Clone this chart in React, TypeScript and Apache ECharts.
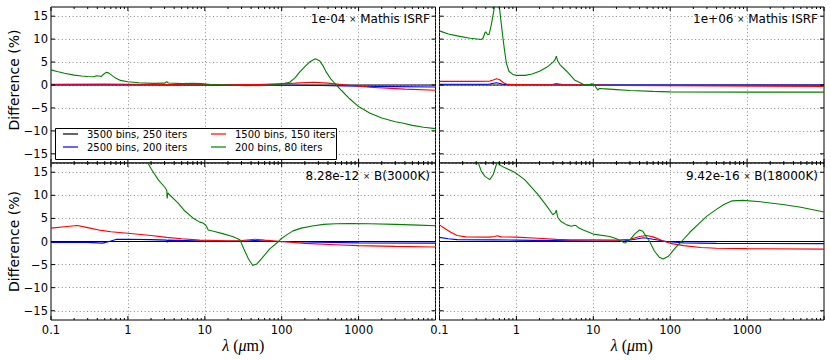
import React, { useEffect, useRef } from 'react';
import * as echarts from 'echarts';

type Pt = [number, number];

const seriesNames = ['3500 bins, 250 iters', '2500 bins, 200 iters', '1500 bins, 150 iters', '200 bins, 80 iters'];
const seriesColors = ['#000000', '#0000ff', '#ff0000', '#008000'];
const panelTitles = [
  '1e-04 {x|×} Mathis ISRF',
  '1e+06 {x|×} Mathis ISRF',
  '8.28e-12 {x|×} B(3000K)',
  '9.42e-16 {x|×} B(18000K)',
];
const xMajorTicks = [0.1, 1, 10, 100, 1000, 10000];
const xMinorTicks = [
  0.2, 0.3, 0.4, 0.5, 0.6, 0.7, 0.8, 0.9,
  2, 3, 4, 5, 6, 7, 8, 9,
  20, 30, 40, 50, 60, 70, 80, 90,
  200, 300, 400, 500, 600, 700, 800, 900,
  2000, 3000, 4000, 5000, 6000, 7000, 8000, 9000,
];
const yMajorTicks = [-15, -10, -5, 0, 5, 10, 15];
const X_MIN = 0.1;
const X_MAX = 10000;
const Y_MIN = -17;
const Y_MAX = 17;

// Top-left: 1e-04 x Mathis ISRF
const tlBlack: Pt[] = [[0.1, 0], [10000, 0]];
const tlBlue: Pt[] = [[0.1, 0.05], [1, 0.05], [10, 0], [100, -0.05], [300, -0.1], [1000, -0.25], [3000, -0.35], [10000, -0.45]];
const tlRed: Pt[] = [[0.1, 0.15], [0.5, 0.2], [1, 0.15], [3, 0.1], [10, 0.05], [50, 0.1], [150, 0.4], [260, 0.6], [400, 0.4], [700, 0.0], [1400, -0.5], [4000, -0.9], [10000, -1.15]];
const tlGreen: Pt[] = [
  [0.1, 3.3], [0.12, 2.95], [0.15, 2.55], [0.2, 2.15], [0.25, 1.95], [0.3, 1.85], [0.36, 1.8], [0.39, 2.0], [0.42, 1.95],
  [0.45, 1.85], [0.48, 2.3], [0.52, 2.75], [0.56, 2.65], [0.62, 2.1], [0.7, 1.45], [0.8, 1.0], [1.0, 0.7], [1.4, 0.5],
  [2.1, 0.35], [3.0, 0.4], [3.2, 0.7], [3.35, 0.45], [5, 0.3], [7, 0.35], [9, 0.3], [12, 0.1], [20, 0.0], [35, -0.15],
  [60, -0.1], [94, 0.1], [127, 0.6], [150, 1.6], [171, 2.8], [200, 4.0], [230, 5.0], [274, 5.7], [310, 5.3], [350, 4.0],
  [380, 2.8], [440, 1.2], [513, 0], [600, -1.2], [764, -3.0], [1000, -4.7], [1390, -6.1], [2000, -7.2], [3000, -8.0],
  [3700, -8.3], [5000, -8.8], [7000, -9.2], [10000, -9.5],
];

// Top-right: 1e+06 x Mathis ISRF
const trBlack: Pt[] = [[0.1, 0], [10000, 0]];
const trBlue: Pt[] = [[0.1, 0.15], [0.45, 0.2], [0.55, 0.5], [0.65, 0.2], [0.8, 0.05], [10000, 0.0]];
const trRed: Pt[] = [[0.1, 0.8], [0.3, 0.8], [0.45, 0.85], [0.5, 1.1], [0.55, 1.35], [0.6, 1.2], [0.68, 0.5], [0.75, 0.15], [1, 0.1], [3, 0.15], [3.3, 0.3], [4, 0.1], [10, 0.0], [20, -0.1], [10000, -0.3]];
const trGreen: Pt[] = [
  [0.1, 11.8], [0.13, 11.1], [0.17, 10.7], [0.25, 10.2], [0.35, 9.9], [0.37, 10.3], [0.39, 11.4], [0.4, 11.6], [0.42, 11.0],
  [0.44, 11.0], [0.47, 13.0], [0.5, 15.5], [0.53, 18], [0.56, 19.5], [0.59, 18], [0.62, 15.0], [0.66, 11], [0.7, 7.6],
  [0.74, 4.8], [0.8, 3.0], [0.9, 2.3], [1.0, 2.1], [1.3, 2.1], [1.6, 2.4], [2.0, 3.0], [2.5, 3.9], [3.0, 5.0], [3.2, 5.6],
  [3.3, 6.3], [3.45, 5.2], [3.7, 4.4], [4.5, 3.0], [5.7, 1.1], [7.4, 0.15], [9, 0.1], [9.5, 0.25], [10.3, 0.1], [11, -0.7],
  [11.5, -1.1], [12, -0.75], [13, -0.8], [20, -1.0], [30, -1.2], [60, -1.4], [100, -1.5], [1000, -1.55], [10000, -1.55],
];

// Bottom-left: 8.28e-12 x B(3000K)
const blBlack: Pt[] = [[0.1, 0], [10000, 0]];
const blBlue: Pt[] = [[0.1, -0.2], [0.3, -0.2], [0.47, -0.35], [0.6, 0.1], [0.7, 0.45], [1, 0.5], [2, 0.4], [3.2, 0.3], [3.25, -0.2], [3.3, 0.3], [10, 0.1], [30, 0.05], [45, 0.2], [80, 0.0], [300, -0.15], [1000, -0.3], [10000, -0.35]];
const blRed: Pt[] = [[0.1, 2.9], [0.15, 3.2], [0.22, 3.45], [0.3, 3.0], [0.45, 2.4], [0.6, 2.1], [1, 1.8], [2, 1.3], [3.2, 0.9], [5, 0.6], [8.6, 0.3], [20, 0.15], [30, 0.2], [45, 0.5], [60, 0.3], [100, 0.0], [200, -0.4], [500, -0.7], [1000, -0.9], [3000, -1.05], [10000, -1.2]];
const blGreen: Pt[] = [
  [1.5, 20], [1.82, 17], [2.03, 15.6], [2.5, 13.3], [3.0, 11.8], [3.2, 11.1], [3.24, 9.3], [3.3, 10.5], [4.5, 8.3],
  [5.5, 6.6], [7.0, 5.1], [8.6, 4.2], [9.5, 4.0], [10.3, 3.5], [11.1, 2.5], [13, 2.2], [17, 1.7], [23, 1.1], [28.6, 0.4],
  [32, -1.5], [37, -3.8], [42, -5.2], [48, -4.8], [58, -3.2], [70, -1.6], [91, 0], [98, 0.6], [120, 1.6], [140, 2.3],
  [180, 2.9], [250, 3.35], [350, 3.7], [500, 3.85], [800, 3.9], [1400, 3.85], [3000, 3.7], [6000, 3.55], [10000, 3.4],
];

// Bottom-right: 9.42e-16 x B(18000K)
const brBlack: Pt[] = [[0.1, 0], [10000, 0]];
const brBlue: Pt[] = [[0.1, 0.9], [0.13, 0.6], [0.17, 0.4], [0.5, 0.35], [1, 0.3], [3, 0.2], [10, 0.1], [25, 0.1], [35, 0.5], [45, 0.8], [60, 0.5], [90, 0.0], [150, -0.3], [400, -0.4], [10000, -0.45]];
const brRed: Pt[] = [[0.1, 3.6], [0.12, 2.7], [0.14, 2.0], [0.17, 1.3], [0.22, 1.0], [0.45, 0.95], [0.52, 1.1], [0.57, 1.25], [0.63, 1.0], [1.0, 0.95], [1.9, 0.7], [3.3, 0.45], [5, 0.35], [10, 0.35], [20, 0.3], [30, 0.5], [40, 1.1], [49, 1.3], [60, 1.0], [81, 0.1], [100, -0.4], [150, -0.9], [250, -1.3], [400, -1.45], [1000, -1.55], [10000, -1.65]];
const brGreen: Pt[] = [
  [0.28, 19.5], [0.32, 17], [0.35, 15.2], [0.39, 14.1], [0.45, 13.4], [0.5, 14.5], [0.54, 16.3], [0.57, 17.4], [0.6, 16.6],
  [0.7, 16.0], [0.95, 15.0], [1.28, 13.4], [1.9, 10.2], [2.5, 7.6], [2.98, 5.8], [3.2, 6.2], [3.3, 6.8], [3.45, 5.2],
  [3.8, 4.35], [4.5, 3.6], [5.2, 3.3], [5.7, 3.5], [6.0, 3.4], [6.5, 2.9], [7.4, 2.5], [10, 1.6], [16.4, 1.1], [20, 0.6],
  [25.8, -0.35], [30, 0.4], [35, 1.7], [40, 2.5], [44, 2.2], [50, 0.8], [54, 0], [62, -2.0], [72, -3.4], [81, -3.8],
  [95, -3.2], [115, -1.5], [140, 0], [180, 2.0], [240, 4.0], [300, 5.5], [394, 6.9], [500, 8.0], [640, 8.8], [880, 8.9],
  [1500, 8.6], [2900, 8.0], [5000, 7.4], [10000, 6.4],
];

const panelData: Pt[][][] = [
  [tlBlack, tlBlue, tlRed, tlGreen],
  [trBlack, trBlue, trRed, trGreen],
  [blBlack, blBlue, blRed, blGreen],
  [brBlack, brBlue, brRed, brGreen],
];

const FONT = 'DejaVu Sans';

function buildOption() {
  const grids = [
    { left: 51, top: 7, width: 384.5, height: 156 },
    { left: 439.5, top: 7, width: 384.5, height: 156 },
    { left: 51, top: 163, width: 384.5, height: 157 },
    { left: 439.5, top: 163, width: 384.5, height: 157 },
  ];
  const titleRight = [401, 13, 401, 13];
  const titleTop = [13, 13, 170, 170];

  const tickData: number[][] = [];
  xMajorTicks.forEach((x) => { tickData.push([x, Y_MIN, 0, 4]); tickData.push([x, Y_MAX, 1, 4]); });
  xMinorTicks.forEach((x) => { tickData.push([x, Y_MIN, 0, 2]); tickData.push([x, Y_MAX, 1, 2]); });
  yMajorTicks.forEach((y) => { tickData.push([X_MIN, y, 2, 4]); tickData.push([X_MAX, y, 3, 4]); });

  const series: any[] = [];
  panelData.forEach((lines, gi) => {
    lines.forEach((pts, si) => {
      series.push({
        type: 'line',
        name: seriesNames[si],
        xAxisIndex: gi,
        yAxisIndex: gi,
        data: pts,
        symbol: 'none',
        showSymbol: false,
        clip: true,
        silent: true,
        lineStyle: { color: seriesColors[si], width: 1.1 },
        itemStyle: { color: seriesColors[si] },
        z: 2,
      });
    });
    series.push({
      type: 'custom',
      xAxisIndex: gi,
      yAxisIndex: gi,
      silent: true,
      z: 6,
      data: tickData,
      renderItem: (params: any, api: any) => {
        const p = api.coord([api.value(0), api.value(1)]);
        const d = api.value(2);
        const len = api.value(3);
        const dx = d === 2 ? 1 : d === 3 ? -1 : 0;
        const dy = d === 0 ? -1 : d === 1 ? 1 : 0;
        return {
          type: 'line',
          shape: { x1: p[0], y1: p[1], x2: p[0] + dx * len, y2: p[1] + dy * len },
          style: { stroke: '#000', lineWidth: 1 },
        };
      },
    });
  });

  const legendText = { fontSize: 10, fontFamily: FONT, color: '#000', padding: [0, 0, 0, 4] };
  const lineIcon = 'path://M0,0 L15,0 L15,1.2 L0,1.2 Z';
  const gridLine = { show: true, lineStyle: { color: '#7a7a7a', width: 0.9, type: [1, 2.6] } };

  return {
    animation: false,
    backgroundColor: '#ffffff',
    grid: grids.map((g) => ({ ...g, show: true, borderColor: '#000', borderWidth: 1, backgroundColor: 'transparent' })),
    title: panelTitles.map((t, i) => ({
      text: t,
      right: titleRight[i],
      top: titleTop[i],
      padding: 0,
      textStyle: {
        fontSize: 12, fontWeight: 'normal', color: '#000', fontFamily: FONT,
        rich: { x: { fontSize: 8.5, fontFamily: FONT, color: '#000' } },
      },
    })),
    legend: [
      {
        data: [seriesNames[0], seriesNames[1]], left: 63, top: 129, orient: 'vertical', icon: lineIcon,
        itemWidth: 15, itemHeight: 12, itemGap: 3, padding: 0, selectedMode: false, textStyle: legendText, z: 5,
      },
      {
        data: [seriesNames[2], seriesNames[3]], left: 211, top: 129, orient: 'vertical', icon: lineIcon,
        itemWidth: 15, itemHeight: 12, itemGap: 3, padding: 0, selectedMode: false, textStyle: legendText, z: 5,
      },
    ],
    xAxis: grids.map((_, i) => ({
      type: 'log',
      logBase: 10,
      gridIndex: i,
      min: X_MIN,
      max: X_MAX,
      axisLine: { show: false },
      axisTick: { show: false },
      splitLine: gridLine,
      axisLabel: {
        show: i >= 2,
        margin: 4,
        fontSize: 11.5,
        fontFamily: FONT,
        color: '#000',
        showMaxLabel: false,
        formatter: (v: number) => (v >= 9999 ? '' : v < 1 ? String(+v.toPrecision(2)) : String(Math.round(v))),
      },
    })),
    yAxis: grids.map((_, i) => ({
      type: 'value',
      gridIndex: i,
      min: Y_MIN,
      max: Y_MAX,
      splitNumber: 7,
      minInterval: 5,
      maxInterval: 5,
      axisLine: { show: false },
      axisTick: { show: false },
      splitLine: gridLine,
      axisLabel: {
        show: i % 2 === 0,
        margin: 3,
        fontSize: 11.5,
        fontFamily: FONT,
        color: '#000',
        showMinLabel: false,
        showMaxLabel: false,
        formatter: (v: number) => (v < 0 ? '\u2212' + Math.abs(v) : String(v)),
      },
    })),
    graphic: [
      {
        type: 'rect', z: 3, silent: true,
        shape: { x: 55.5, y: 128.5, width: 281, height: 31 },
        style: { fill: '#ffffff', stroke: '#000', lineWidth: 1 },
      },
      {
        type: 'text', x: 14, y: 80, rotation: Math.PI / 2, silent: true,
        style: { text: 'Difference (%)', fontSize: 14, fontFamily: FONT, fill: '#000', align: 'center', verticalAlign: 'middle' },
      },
      {
        type: 'text', x: 14, y: 241.5, rotation: Math.PI / 2, silent: true,
        style: { text: 'Difference (%)', fontSize: 14, fontFamily: FONT, fill: '#000', align: 'center', verticalAlign: 'middle' },
      },
      ...[243.3, 631.8].map((cx) => ({
        type: 'text', x: cx, y: 345, silent: true,
        style: {
          text: '{i|λ} ({i|μ}m)',
          fontSize: 16, fontFamily: 'Liberation Serif', fill: '#000', align: 'center', verticalAlign: 'middle',
          rich: { i: { fontSize: 16, fontFamily: 'Liberation Serif', fontStyle: 'italic', fill: '#000' } },
        },
      })),
    ],
    series,
  };
}

export default function App() {
  const ref = useRef<HTMLDivElement>(null);
  useEffect(() => {
    if (!ref.current) return;
    const chart = echarts.init(ref.current, undefined, { renderer: 'svg' });
    chart.setOption(buildOption() as any);
    return () => chart.dispose();
  }, []);
  return (
    <div
      ref={ref}
      style={{ position: 'fixed', left: 0, top: 0, width: 831, height: 360, background: '#ffffff' }}
    />
  );
}
